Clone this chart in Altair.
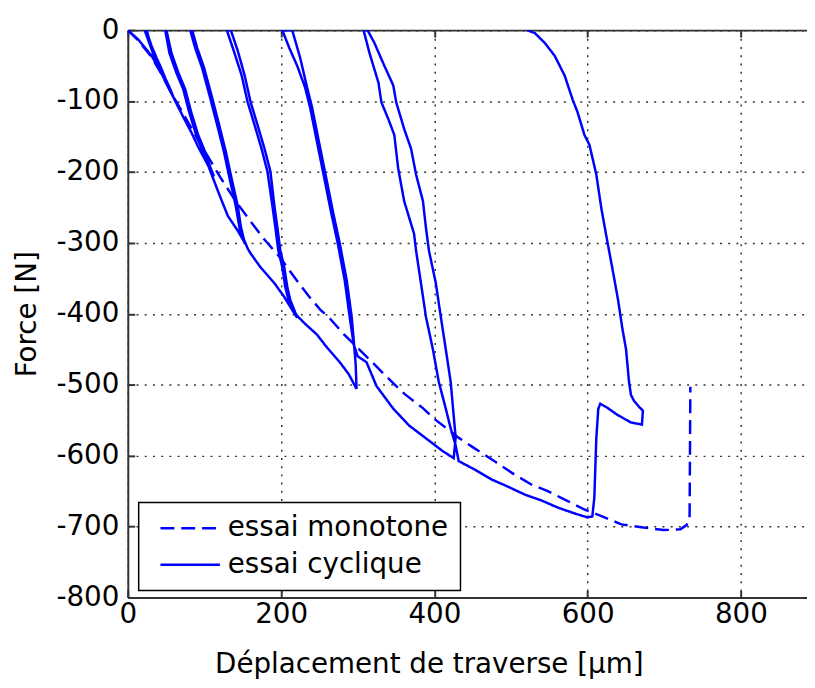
import altair as alt
import pandas as pd

# ---- data (displacement µm, force N) ----
series = ["essai monotone", "essai cyclique"]

mono_x = [0, 14, 31, 44, 57, 75, 95, 121, 140, 159, 178, 199, 215, 236, 251, 264, 282,
          315, 337, 361, 385, 402, 432, 450, 480, 505, 527, 548, 570, 596, 622, 644,
          670, 699, 721, 729, 733, 734]
mono_y = [0, -15, -38, -62, -89, -123, -161, -208, -240, -268, -295, -321, -345, -375,
          -394, -407, -429, -464, -488, -513, -533, -550, -575, -588, -609, -627, -641,
          -650, -662, -676, -687, -697, -701, -705, -704, -698, -690, -503]

cyc_x = [0, 14.2, 31.0, 43.9, 56.9, 60.7,
         55.6, 49.1, 43.9, 37.5, 31.0, 27.1, 24.6,
         22.0, 27.1, 33.6, 40.1, 46.5, 54.3, 62.0,
         72.4, 82.7, 91.8, 102.1, 112.4,
         107.3, 100.8, 91.8, 82.7, 75.0, 65.9, 56.9, 50.4,
         48.8, 54.3, 63.3, 72.4, 80.1, 89.2, 98.2, 106.0, 115.0,
         120.2, 130.5, 143.5, 152.5,
         147.3, 143.5, 135.7, 127.9, 118.9, 109.9, 99.5, 90.5, 84.0,
         81.4, 87.9, 96.9, 107.3, 116.3, 125.4, 133.1, 140.9, 146.0, 156.4,
         160.3, 173.2, 191.3, 204.2, 212.0, 221.0,
         217.1, 212.0, 208.1, 204.2, 199.0, 195.2, 191.3, 186.1, 178.4, 169.3, 160.3,
         152.5, 143.5, 134.4,
         129.2, 138.3, 148.6, 156.4, 165.4, 174.5, 182.2, 188.7, 192.6, 196.4, 201.6,
         205.5, 210.7, 221.0, 231.3,
         246.8, 259.8, 276.6, 288.2, 298.5,
         297.3, 294.7, 292.1, 285.6, 276.6, 267.5, 258.5, 249.4, 240.4, 233.9, 224.9, 214.5,
         201.6, 210.7, 221.0, 231.3, 237.8, 246.8, 255.9, 264.9, 274.0, 283.0, 289.5,
         294.7, 299.9,
         311.5, 324.4, 346.4, 367.0, 389.0, 411.0, 425.2,
         427.8, 425.2, 421.3, 414.9, 408.4, 401.9, 392.9, 389.0, 385.1, 376.1, 369.6,
         360.6, 350.2, 346.4, 334.7, 321.8, 312.8,
         307.6, 315.3, 327.0, 330.9, 339.9, 347.7, 352.8, 360.6, 373.5, 376.1, 382.5,
         389.0, 398.1, 405.8, 414.9, 421.3, 427.8, 431.7,
         453.6, 475.6, 496.3, 518.3, 540.2, 560.9, 582.9, 599.7, 606.1,
         608.7, 610.0, 611.3, 613.9, 616.5,
         625.5, 638.4, 656.5, 670.8, 672.1, 666.9, 660.4, 656.5, 654.0, 650.1, 644.9,
         639.7, 632.0, 625.5, 617.8, 611.3, 602.3, 595.8, 586.8, 580.3, 570.0, 557.0,
         544.1, 531.2, 520.8]
cyc_y = [0, -13.9, -36.2, -59.9, -87.8, -97.6,
         -83.6, -68.3, -54.4, -39.0, -22.3, -9.8, 0,
         0, -15.3, -34.8, -51.6, -66.9, -83.6, -100.3,
         -122.6, -143.6, -164.5, -185.4, -206.3,
         -192.3, -171.4, -147.7, -115.7, -83.6, -59.9, -32.1, 0,
         0, -32.1, -59.9, -83.6, -115.7, -147.7, -171.4, -194.0, -219.5,
         -234.1, -262.0, -282.9, -299.7,
         -276.0, -248.1, -210.5, -171.4, -132.4, -94.8, -53.0, -25.1, 0,
         0, -25.1, -53.0, -94.8, -132.4, -171.4, -210.5, -248.1, -280.2, -308.0,
         -315.0, -334.5, -356.8, -376.3, -390.2, -405.6,
         -394.4, -380.5, -362.4, -334.5, -310.8, -278.7, -248.1, -199.3, -167.2, -133.8,
         -101.7, -64.1, -29.3, 0,
         0, -29.3, -64.1, -101.7, -133.8, -167.2, -199.3, -248.1, -278.7, -310.8, -334.5,
         -362.4, -384.7, -403.0, -414.1,
         -429.3, -447.4, -468.3, -485.0, -505.9,
         -471.1, -436.2, -404.2, -352.6, -301.0, -255.1, -206.3, -157.5, -108.7, -80.8,
         -39.0, 0,
         0, -25.1, -50.2, -80.8, -108.7, -157.5, -206.3, -255.1, -301.0, -352.6, -404.2,
         -443.2, -459.9,
         -468.3, -501.7, -533.8, -557.5, -575.6, -593.7, -603.5,
         -574.2, -543.6, -496.2, -450.2, -404.2, -356.8, -310.8, -278.7, -241.1, -203.5,
         -167.2, -139.4, -101.7, -78.0, -50.2, -18.1, 0,
         0, -32.1, -73.9, -101.7, -125.4, -147.7, -195.1, -241.1, -287.1, -310.8, -356.8,
         -404.2, -450.2, -496.2, -533.8, -561.7, -585.4, -607.7,
         -620.2, -634.1, -643.9, -655.1, -663.4, -673.2, -681.5, -687.1, -685.7,
         -659.2, -617.4, -575.6, -533.8, -526.8,
         -532.4, -542.2, -553.3, -556.1, -536.6, -531.0, -522.6, -514.3, -496.2, -450.2,
         -418.1, -380.5, -334.5, -296.9, -250.9, -203.5, -161.7, -147.7, -115.7, -97.6,
         -64.1, -36.2, -18.1, -4.2, 0]

x_ticks = [0, 200, 400, 600, 800]
y_ticks = [-800, -700, -600, -500, -400, -300, -200, -100, 0]
x_title = "Déplacement de traverse [µm]"
y_title = "Force [N]"

rows = []
for i, (a, b) in enumerate(zip(mono_x, mono_y)):
    rows.append({"x": a, "y": b, "serie": series[0], "i": i})
for i, (a, b) in enumerate(zip(cyc_x, cyc_y)):
    rows.append({"x": a, "y": b, "serie": series[1], "i": i})
df = pd.DataFrame(rows)

W, H = 686, 573
XMAX = 886.2
FONT = "DejaVu Sans"
FS = 28
BLUE = "#0000ff"
AX = "#333333"
LBL = "'' + datum.value"

xs = alt.Scale(domain=[0, XMAX], nice=False, zero=False)
ys = alt.Scale(domain=[-800, 0], nice=False, zero=False)

legend = alt.Legend(
    title=None, orient="none", legendX=11, legendY=477,
    symbolType="M-4,0H4", symbolSize=225, symbolStrokeColor=BLUE,
    symbolStrokeWidth=2.5, labelFont=FONT, labelFontSize=FS, labelColor="#000",
    labelOffset=24, symbolOffset=26, rowPadding=9, padding=12,
    strokeColor="#000", fillColor="#ffffff", labelLimit=600,
)

main = alt.Chart(df).mark_line(strokeWidth=2.5, color=BLUE, clip=True).encode(
    x=alt.X("x:Q", scale=xs, axis=alt.Axis(
        orient="bottom", values=x_ticks, ticks=False, grid=True,
        gridDash=[2, 6.3], gridColor="#333333", gridWidth=1.5,
        domainColor=AX, domainWidth=2, labelFont=FONT, labelFontSize=FS,
        labelColor="#000", labelPadding=3, labelFlush=False, labelExpr=LBL,
        title=x_title, titleFont=FONT, titleFontSize=FS, titleFontWeight="normal",
        titleColor="#000", titleX=304, titleY=76, titleAlign="center",
        titleBaseline="alphabetic")),
    y=alt.Y("y:Q", scale=ys, axis=alt.Axis(
        orient="left", values=y_ticks, ticks=False, grid=True,
        gridDash=[2, 6.3], gridColor="#333333", gridWidth=1.5,
        domainColor=AX, domainWidth=2, labelFont=FONT, labelFontSize=FS,
        labelColor="#000", labelPadding=9, labelFlush=False, labelExpr=LBL,
        title=y_title, titleFont=FONT, titleFontSize=FS, titleFontWeight="normal",
        titleColor="#000", titleX=-93, titleY=H / 2, titleAngle=270,
        titleAlign="center", titleBaseline="alphabetic")),
    strokeDash=alt.StrokeDash("serie:N", scale=alt.Scale(domain=series, range=[[14, 7], [1, 0]]),
                              legend=legend),
    order=alt.Order("i:Q"),
)

ticks_in_a = alt.Chart(df).mark_line(opacity=0).encode(
    x=alt.X("x:Q", scale=xs, axis=alt.Axis(
        orient="top", offset=-H, values=x_ticks, labels=False, grid=False,
        domain=False, tickSize=7, tickWidth=2, tickColor=AX, title=None)),
    y=alt.Y("y:Q", scale=ys, axis=alt.Axis(
        orient="right", offset=-W, values=y_ticks, labels=False, grid=False,
        domain=False, tickSize=7, tickWidth=2, tickColor=AX, title=None)),
    detail="serie:N",
)

ticks_in_b = alt.Chart(df).mark_line(opacity=0).encode(
    x=alt.X("x:Q", scale=xs, axis=alt.Axis(
        orient="bottom", offset=-H, values=x_ticks, labels=False, grid=False,
        domain=True, domainColor=AX, domainWidth=2, tickSize=7, tickWidth=2,
        tickColor=AX, title=None)),
    y=alt.Y("y:Q", scale=ys, axis=None),
    detail="serie:N",
)

chart = alt.layer(main, ticks_in_a, ticks_in_b).resolve_axis(
    x="independent", y="independent"
).properties(
    width=W, height=H,
    autosize=alt.AutoSizeParams(type="none"),
    padding={"left": 121, "top": 19, "right": 0, "bottom": 79},
).configure_view(stroke=None).configure_legend(strokeWidth=1.5)

chart.save("out.html", embed_options={"renderer": "svg", "actions": False})
